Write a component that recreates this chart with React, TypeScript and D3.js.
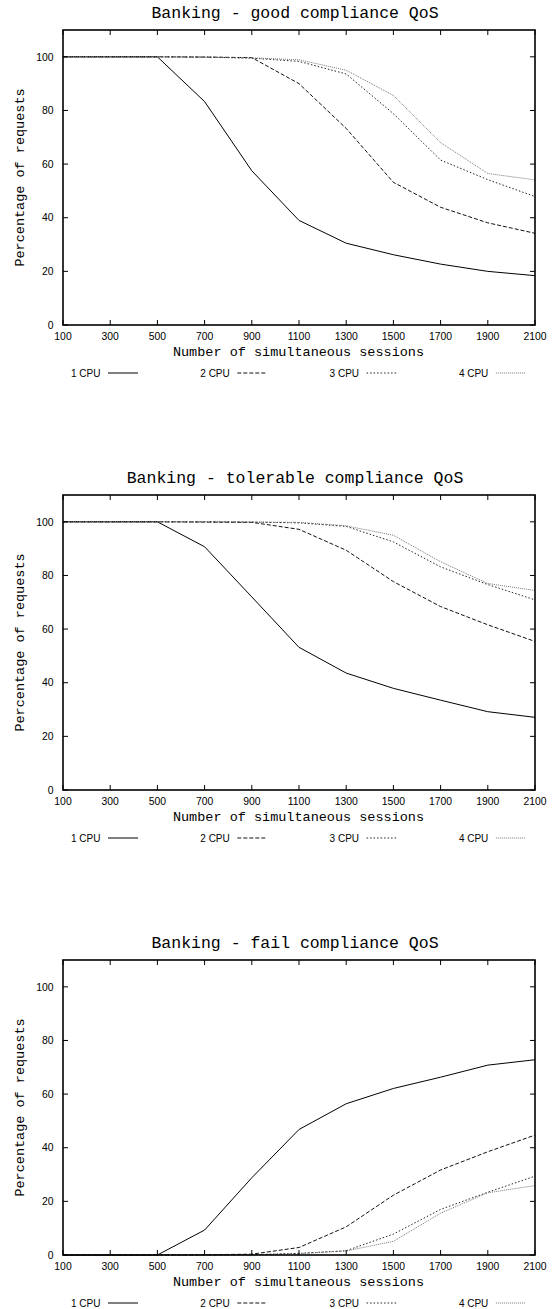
import React from "react";
import * as d3 from "d3";

// x values (number of simultaneous sessions)
const sessions = [100, 300, 500, 700, 900, 1100, 1300, 1500, 1700, 1900, 2100];
const yTicks = [0, 20, 40, 60, 80, 100];
const cpuLabels = ["1 CPU", "2 CPU", "3 CPU", "4 CPU"];

// good compliance QoS
const good1 = [100, 100, 100, 83.3, 57.5, 39, 30.5, 26.2, 22.7, 20, 18.4];
const good2 = [100, 100, 100, 99.9, 99.7, 90, 73.3, 53.2, 43.9, 38.1, 34.2];
const good3 = [100, 100, 100, 99.9, 99.5, 98.3, 93.6, 78.8, 61.5, 54.2, 47.9];
const good4 = [100, 100, 100, 99.9, 99.6, 98.9, 95, 85.6, 68, 56.5, 54.1];

// tolerable compliance QoS
const tol1 = [100, 100, 100, 90.7, 72, 53.2, 43.6, 37.9, 33.5, 29.2, 27.1];
const tol2 = [100, 100, 100, 99.9, 99.8, 97.2, 89.4, 77.7, 68.4, 61.6, 55.4];
const tol3 = [100, 100, 100, 100, 99.9, 99.6, 98.3, 92.5, 83.2, 76.6, 70.9];
const tol4 = [100, 100, 100, 100, 99.9, 99.8, 98.5, 95, 85.1, 77, 74.4];

// fail compliance QoS
const fail1 = [0, 0, 0, 9.3, 28.8, 46.8, 56.4, 62.1, 66.3, 70.8, 72.8];
const fail2 = [0, 0, 0, 0.1, 0.3, 2.8, 10.5, 22.3, 31.7, 38.5, 44.7];
const fail3 = [0, 0, 0, 0, 0.1, 0.6, 1.6, 7.8, 17, 23.4, 29.4];
const fail4 = [0, 0, 0, 0, 0.1, 0.5, 1.5, 5.1, 15.6, 23.2, 25.9];

const panels = [
  { title: "Banking - good compliance QoS", top: 30, series: [good1, good2, good3, good4] },
  { title: "Banking - tolerable compliance QoS", top: 495, series: [tol1, tol2, tol3, tol4] },
  { title: "Banking - fail compliance QoS", top: 960, series: [fail1, fail2, fail3, fail4] },
];

const styles = [
  { stroke: "#000", dash: "none", width: 1 },
  { stroke: "#111", dash: "4,2", width: 1 },
  { stroke: "#222", dash: "1.5,2", width: 1 },
  { stroke: "#777", dash: "1,1", width: 1 },
];

const width = 558;
const height = 1309;
const left = 63;
const right = 535;
const plotH = 295;
const mono = "'Liberation Mono', 'Courier New', monospace";
const sans = "'Liberation Sans', Arial, sans-serif";

const Panel = ({ title, top, series }) => {
  const bottom = top + plotH;
  const x = d3.scaleLinear().domain([100, 2100]).range([left, right]);
  const y = d3.scaleLinear().domain([0, 110]).range([bottom, top]);
  const line = d3
    .line<number>()
    .x((_, i) => x(sessions[i]))
    .y((d) => y(d));
  const tick = 5;

  return (
    <g>
      <text x={295} y={top - 12} textAnchor="middle" fontFamily={mono} fontSize={16.5} fill="#000">
        {title}
      </text>

      {/* data lines */}
      {series.map((s, i) => (
        <path
          key={i}
          d={line(s) || ""}
          fill="none"
          stroke={styles[i].stroke}
          strokeWidth={styles[i].width}
          strokeDasharray={styles[i].dash}
        />
      ))}

      {/* ticks, mirrored on all sides */}
      {sessions.map((v) => (
        <g key={"x" + v}>
          <line x1={x(v)} x2={x(v)} y1={bottom} y2={bottom - tick} stroke="#000" />
          <line x1={x(v)} x2={x(v)} y1={top} y2={top + tick} stroke="#000" />
          <text x={x(v)} y={bottom + 14.5} textAnchor="middle" fontFamily={sans} fontSize={10.4} fill="#000">
            {v}
          </text>
        </g>
      ))}
      {yTicks.map((v) => (
        <g key={"y" + v}>
          <line x1={left} x2={left + tick} y1={y(v)} y2={y(v)} stroke="#000" />
          <line x1={right} x2={right - tick} y1={y(v)} y2={y(v)} stroke="#000" />
          <text x={53.5} y={y(v) + 3.7} textAnchor="end" fontFamily={sans} fontSize={10.4} fill="#000">
            {v}
          </text>
        </g>
      ))}

      <rect x={left} y={top} width={right - left} height={plotH} fill="none" stroke="#000" strokeWidth={1.6} />

      <text x={298.5} y={bottom + 31} textAnchor="middle" fontFamily={mono} fontSize={13.5} fill="#000">
        Number of simultaneous sessions
      </text>
      <text
        transform={`translate(24,${(top + bottom) / 2}) rotate(-90)`}
        textAnchor="middle"
        fontFamily={mono}
        fontSize={13.5}
        fill="#000"
      >
        Percentage of requests
      </text>

      {/* legend */}
      {cpuLabels.map((lab, i) => {
        const lx = 71 + i * 129.3;
        const ly = bottom + 48;
        return (
          <g key={lab}>
            <text x={lx} y={ly + 3.6} fontFamily={sans} fontSize={10} fill="#000">
              {lab}
            </text>
            <line
              x1={lx + 37}
              x2={lx + 67}
              y1={ly}
              y2={ly}
              stroke={styles[i].stroke}
              strokeWidth={styles[i].width}
              strokeDasharray={styles[i].dash}
            />
          </g>
        );
      })}
    </g>
  );
};

export default function App() {
  return (
    <svg
      width={width}
      height={height}
      style={{ position: "absolute", left: 0, top: 0, background: "#fff" }}
    >
      <rect width={width} height={height} fill="#fff" />
      {panels.map((p) => (
        <Panel key={p.title} title={p.title} top={p.top} series={p.series} />
      ))}
    </svg>
  );
}
